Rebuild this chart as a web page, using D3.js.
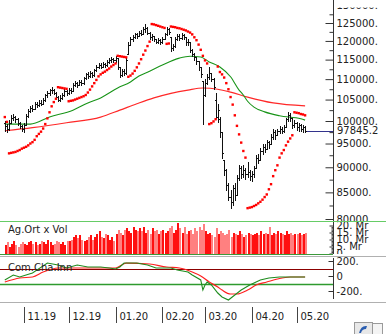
<!DOCTYPE html>
<html><head><meta charset="utf-8">
<script src="https://cdnjs.cloudflare.com/ajax/libs/d3/7.8.5/d3.min.js"></script>
<style>body{margin:0;background:#fff;} svg{display:block;font-family:"DejaVu Sans",Verdana,sans-serif;}</style>
</head><body><svg id="c" width="386" height="334"></svg>
<script>
// ---------- DATA ----------
const startDate = "2019-10-18", endDate = "2020-05-08";
const holidays = ["2019-10-29","2020-01-01","2020-04-23","2020-05-01"];
const monthLabels = ["11.19","12.19","01.20","02.20","03.20","04.20","05.20"];
const priceTicks = [80,85,90,95,100,105,110,115,120,125,130];
const priceTickLabels = ["80000.","85000.","90000.","95000.","100000.","105000.","110000.","115000.","120000.","125000.","130000."];
const priceMinor = [82.5,87.5,92.5,97.5,102.5,107.5,112.5,117.5,122.5,127.5];
const lastPriceLabel = "97845.2";
const volTicks = [0,5,10,15,20];
const volTickLabels = ["0.","5. Mr","10. Mr","15. Mr","20. Mr"];
const cciTicks = [-200,0,200];
const cciTickLabels = ["-200.","0","200."];
const cciLevels = [100,-100];

// prices in thousands
const opens = [99.5,98.8,98.3,99.6,100.8,101.0,100.4,99.6,98.8,
 98.2,99.2,101.2,102.3,103.0,102.8,104.0,103.6,104.3,104.0,104.8,106.0,106.5,107.2,107.4,106.7,105.5,105.0,105.4,106.2,107.0,
 106.6,107.3,107.0,108.5,109.0,108.6,109.4,109.0,110.2,111.2,110.8,111.5,111.0,112.2,113.0,113.6,113.2,113.9,113.5,114.4,114.9,115.1,
 114.8,115.5,113.0,111.0,112.0,111.6,116.6,119.0,120.5,121.0,121.8,121.4,122.3,122.0,123.3,123.6,122.2,121.0,121.3,120.4,119.8,120.3,
 119.6,120.5,121.8,123.2,121.0,118.0,118.6,120.5,121.4,120.8,121.6,121.0,119.6,119.8,117.6,116.5,115.6,114.6,113.0,109.5,
 106.0,109.0,110.5,111.5,110.0,105.0,101.0,100.5,97.5,91.5,89.5,86.5,84.2,83.2,85.8,84.5,87.8,89.8,88.6,89.5,88.6,89.0,
 88.2,88.6,89.8,92.0,91.5,93.5,94.3,93.8,95.3,94.8,96.5,97.6,96.8,97.7,98.3,97.8,98.6,100.4,101.3,100.6,99.0,
 99.6,98.6,99.0,98.2,98.6];
const highs = [100.0,99.3,100.2,101.3,101.6,101.2,100.6,99.8,99.0,
 99.5,101.6,102.8,103.5,103.6,104.4,104.5,104.8,104.9,105.3,106.4,107.0,107.6,108.0,107.6,106.8,105.9,106.0,106.6,107.5,107.4,
 107.7,107.8,109.0,109.5,109.4,109.9,109.8,110.6,111.6,111.7,112.0,111.9,112.6,113.5,114.0,114.0,114.3,114.2,114.8,115.3,115.6,115.5,
 116.0,115.2,113.2,112.6,112.5,115.3,119.6,121.0,121.6,122.3,122.2,122.8,122.9,123.8,124.7,123.8,122.4,121.8,121.4,120.6,120.8,120.5,
 121.0,122.2,124.0,123.6,121.0,119.2,121.0,122.0,121.8,122.1,121.8,121.0,120.4,119.5,117.8,116.8,115.6,114.4,113.0,109.6,
 110.0,111.2,113.2,111.6,110.2,106.5,104.0,101.0,97.5,91.5,89.6,86.8,85.5,86.5,86.8,88.5,90.5,90.3,90.4,89.8,91.0,89.4,
 89.3,90.3,92.5,92.8,94.0,94.8,95.0,95.8,95.6,97.0,98.2,98.0,98.3,98.8,98.6,99.0,100.8,102.0,101.8,100.8,100.2,
 99.8,99.5,99.3,99.2,98.9];
const lows = [97.8,97.5,98.0,99.5,100.2,99.8,99.2,98.4,97.7,
 97.6,99.0,101.0,102.0,102.2,102.9,103.2,103.4,103.6,103.9,104.7,105.6,106.1,106.6,106.3,105.1,104.6,104.7,105.2,105.9,106.0,
 106.4,106.6,107.0,108.2,108.1,108.5,108.6,108.9,110.0,110.3,110.6,110.5,110.9,112.0,112.7,112.8,113.0,113.0,113.3,114.0,114.5,114.3,
 114.5,112.5,110.6,110.8,111.0,111.4,116.5,118.8,120.0,120.8,120.9,121.4,121.5,122.0,122.6,121.8,120.5,120.3,119.9,119.3,119.4,119.2,
 119.3,120.4,121.6,121.8,117.4,117.5,118.4,120.3,120.3,120.6,120.4,119.0,119.0,117.0,115.9,115.0,113.8,112.4,110.6,99.3,
 105.8,108.8,110.0,109.5,107.5,100.6,99.8,96.5,92.0,88.5,85.5,83.5,82.0,82.5,83.6,84.5,87.5,87.8,88.0,87.6,88.0,87.5,
 87.3,88.0,89.8,90.8,91.5,92.8,93.2,93.8,94.0,94.8,96.0,96.0,96.8,97.2,97.4,97.6,98.6,100.0,100.0,98.5,98.6,
 98.0,97.8,97.7,97.6,97.5];
const closes = [98.8,98.3,99.5,100.8,101.0,100.4,99.6,98.8,98.2,
 99.2,101.2,102.3,103.0,102.8,104.0,103.6,104.3,104.0,104.8,106.0,106.5,107.2,107.4,106.7,105.5,105.0,105.4,106.2,107.0,106.6,
 107.3,107.0,108.5,109.0,108.6,109.4,109.0,110.2,111.2,110.8,111.5,111.0,112.2,113.0,113.6,113.2,113.9,113.5,114.4,114.9,115.1,114.8,
 115.5,113.0,111.0,112.0,111.6,114.8,119.0,120.5,121.0,121.8,121.4,122.3,122.0,123.3,123.6,122.2,121.0,121.3,120.4,119.8,120.3,119.6,
 120.5,121.8,123.2,122.4,118.0,118.6,120.5,121.4,120.8,121.6,121.0,119.6,119.8,117.6,116.5,115.6,114.6,113.0,111.2,106.0,
 109.0,110.5,111.5,110.0,108.0,101.0,102.5,97.5,93.0,89.5,86.5,84.2,83.2,85.8,84.5,87.8,89.8,88.6,89.5,88.6,89.0,88.2,
 88.6,89.8,92.0,91.5,93.5,94.3,93.8,95.3,94.8,96.5,97.6,96.8,97.7,98.3,97.8,98.6,100.4,101.3,100.6,99.0,99.6,
 98.6,99.0,98.2,98.6,97.8452];
// parabolic SAR (thousands)
const sar = [100.9,99.8,92.9,93.0,93.1,93.2,93.4,93.6,93.9,
 94.1,94.3,94.6,95.0,95.3,95.8,96.6,97.1,97.6,98.3,99.3,100.6,102.0,103.4,104.4,105.2,108.0,107.9,107.8,107.7,107.6,
 104.6,104.7,104.8,105.0,105.2,105.4,105.6,105.8,106.1,106.7,107.4,108.2,109.0,109.8,110.7,111.2,111.6,111.9,112.3,112.7,113.2,113.6,
 114.0,116.0,115.9,115.8,115.7,115.6,110.6,110.9,111.4,112.1,113.0,114.0,115.1,116.3,117.4,118.6,119.8,124.7,124.6,124.4,124.2,124.0,
 123.8,123.6,119.2,119.3,124.0,123.9,123.8,123.6,123.5,123.3,123.1,122.9,122.6,122.3,121.8,121.0,120.2,119.0,117.6,116.0,
 114.8,114.0,99.3,99.5,99.9,100.4,113.2,111.8,111.2,110.4,109.0,107.5,105.6,103.8,101.3,98.9,97.0,95.2,93.4,92.0,82.0,82.1,
 82.2,82.4,82.6,82.9,83.2,83.6,84.1,84.6,85.6,86.6,88.2,89.4,90.4,92.0,92.9,93.6,94.6,95.4,96.1,96.8,102.0,
 101.9,101.8,101.6,101.5,101.3];
// moving averages (sampled: trading-day index, value in thousands)
const maShortIdx = [0,12,21,32,39,45,53,59,63,68,74,82,87,92,96,101,106,110,112,114,117,122,129,139,141];
const maShortVal = [99.3,99.3,100.9,102.5,104.2,105.4,107.8,109.3,110.8,112.0,113.6,115.4,115.9,115.7,114.4,113.1,110.6,107.3,106.1,104.6,103.2,102.1,101.2,100.5,100.2];
const maLongIdx = [0,13,29,45,54,62,70,78,86,93,100,106,114,126,141];
const maLongVal = [97.8,98.5,99.6,100.9,102.5,104.0,105.4,106.5,107.3,107.8,107.5,106.8,105.6,104.2,103.5];
// volume (Mr)
const volumes = [6,8,5,7,9,6,5,7,8,
 7,6,8,9,7,8,6,7,9,8,7,10,8,6,7,9,8,7,8,6,9,
 9,10,12,13,11,13,10,9,10,12,13,10,12,14,16,12,11,14,13,10,12,9,
 14,17,15,13,17,18,16,15,19,17,16,18,16,19,15,17,14,18,16,17,14,16,
 17,15,16,18,20,15,17,22,18,15,19,14,16,17,14,18,16,19,17,21,
 16,14,15,13,12,18,14,16,15,13,14,17,12,15,14,13,16,14,12,13,15,14,
 13,14,15,13,16,14,15,14,19,13,15,14,16,15,14,13,16,14,15,13,14,
 14,15,13,14,15];
// commodity channel index (sampled)
const cciIdx = [0,4,7,13,20,25,29,34,39,45,49,52,54,56,62,67,71,78,81,86,88,92,93,94,95,97,100,102,105,108,111,115,120,124,129,134,141];
const cciVal = [-53,13,-13,40,173,147,107,147,120,120,107,93,120,173,173,147,107,107,80,53,13,-53,-187,-120,-80,-120,-227,-280,-320,-253,-187,-120,-53,-27,-13,-13,-13];
const cciSigIdx = [0,7,13,18,25,35,45,52,57,68,76,82,88,92,96,100,102,106,109,114,118,123,128,134,141];
const cciSigVal = [-80,-27,-13,53,107,107,107,107,173,160,120,107,53,0,-80,-147,-187,-240,-240,-187,-120,-80,-40,-13,-13];

// ---------- HELPERS ----------
function tradingDays(s, e, hol) {
  const out = []; const hs = new Set(hol);
  const d = new Date(s + "T12:00:00Z"), end = new Date(e + "T12:00:00Z");
  while (d <= end) {
    const wd = d.getUTCDay(); const iso = d.toISOString().slice(0,10);
    if (wd !== 0 && wd !== 6 && !hs.has(iso)) out.push(new Date(d));
    d.setUTCDate(d.getUTCDate() + 1);
  }
  return out;
}
const dates = tradingDays(startDate, endDate, holidays);
const N = closes.length;

const svg = d3.select("#c");
const plotR = 333;
const x = d3.scaleLinear().domain([0, N - 1]).range([4.8, 305.1]);
const y = d3.scaleLog().domain([80, 125]).range([219, 23]);
const yv = d3.scaleLinear().domain([0, 20]).range([253.5, 225.5]);
const yc = d3.scaleLinear().domain([-200, 200]).range([291, 261]);
const px = v => Math.round(v) + 0.5;
const FONT = "DejaVu Sans, Verdana, sans-serif";

const defs = svg.append("defs");
function clip(id, x0, y0, w, h) { defs.append("clipPath").attr("id", id).append("rect").attr("x", x0).attr("y", y0).attr("width", w).attr("height", h); }
clip("cMain", 0, 0, plotR, 221);
clip("cVol", 0, 221, plotR, 33);
clip("cCci", 0, 257, plotR, 46);
clip("cMainAx", plotR - 10, 7.5, 70, 213.5);
clip("cVolAx", plotR - 10, 222, 70, 32);
clip("cCciAx", plotR - 10, 257, 70, 45);

function styleAxis(g) {
  g.selectAll(".domain").remove();
  g.selectAll("text").attr("font-family", FONT).attr("font-size", 10).attr("fill", "#222");
  g.selectAll("line").attr("stroke", "#333");
}

// ---------- MAIN PANEL ----------
const gMain = svg.append("g").attr("clip-path", "url(#cMain)");
const lineIdx = (ix, vals, sc) => d3.line().x((d, k) => x(ix[k])).y(d => sc(d)).curve(d3.curveMonotoneX)(vals);
gMain.append("path").attr("d", lineIdx(maLongIdx, maLongVal, y)).attr("fill", "none").attr("stroke", "#ff2828").attr("stroke-width", 1.2);
gMain.append("path").attr("d", lineIdx(maShortIdx, maShortVal, y)).attr("fill", "none").attr("stroke", "#189418").attr("stroke-width", 1.1);

// last price line
gMain.append("line").attr("x1", x(N - 1)).attr("x2", plotR).attr("y1", px(y(closes[N - 1]))).attr("y2", px(y(closes[N - 1])))
  .attr("stroke", "#33338c").attr("stroke-width", 1);

// OHLC bars
const bars = gMain.append("g").attr("stroke", "#111").attr("stroke-width", 1).attr("shape-rendering", "crispEdges");
for (let i = 0; i < N; i++) {
  const xi = px(x(i));
  bars.append("line").attr("x1", xi).attr("x2", xi).attr("y1", Math.round(y(highs[i]))).attr("y2", Math.round(y(lows[i])) + 1);
  bars.append("line").attr("x1", xi - 1.5).attr("x2", xi).attr("y1", px(y(opens[i]))).attr("y2", px(y(opens[i])));
  bars.append("line").attr("x1", xi).attr("x2", xi + 1.5).attr("y1", px(y(closes[i]))).attr("y2", px(y(closes[i])));
}
// SAR dots
gMain.append("g").selectAll("rect").data(sar).join("rect")
  .attr("x", (d, i) => x(i) - 1.2).attr("y", d => y(d) - 1.2).attr("width", 2.4).attr("height", 2.4).attr("fill", "#ff0000");

// main axis
svg.append("line").attr("x1", plotR + 0.5).attr("x2", plotR + 0.5).attr("y1", 0).attr("y2", 221).attr("stroke", "#333");
const axMainWrap = svg.append("g").attr("clip-path", "url(#cMainAx)");
const axMain = axMainWrap.append("g").attr("transform", `translate(${plotR + 0.5},0)`);
axMain.call(d3.axisRight(y).tickValues(priceTicks).tickSizeInner(-8).tickSizeOuter(0).tickPadding(3)
  .tickFormat((d, k) => priceTickLabels[k]));
axMain.append("g").call(d3.axisRight(y).tickValues(priceMinor).tickSizeInner(-4).tickSizeOuter(0).tickFormat(""));
styleAxis(axMain);
svg.append("text").attr("x", plotR + 4).attr("y", y(closes[N - 1])).attr("dy", "0.32em")
  .attr("font-size", 10).attr("fill", "#222").text(lastPriceLabel);

// ---------- SEPARATORS ----------
svg.append("line").attr("x1", 0).attr("x2", 386).attr("y1", 221.5).attr("y2", 221.5).attr("stroke", "#66cc66");
svg.append("line").attr("x1", 0).attr("x2", plotR).attr("y1", 254.5).attr("y2", 254.5).attr("stroke", "#3c9a3c");
svg.append("line").attr("x1", 0).attr("x2", 386).attr("y1", 256.5).attr("y2", 256.5).attr("stroke", "#b0b0b0");
svg.append("line").attr("x1", 0).attr("x2", 386).attr("y1", 302.5).attr("y2", 302.5).attr("stroke", "#b0b0b0");

// ---------- VOLUME PANEL ----------
const gVol = svg.append("g").attr("clip-path", "url(#cVol)").attr("shape-rendering", "crispEdges");
gVol.selectAll("rect").data(volumes).join("rect")
  .attr("x", (d, i) => Math.round(x(i))).attr("width", 1.5)
  .attr("y", d => yv(d)).attr("height", d => yv(0) - yv(d))
  .attr("fill", (d, i) => (i > 0 && closes[i] < closes[i - 1]) ? "#ff8080" : "#ff1010");
svg.append("text").attr("x", 8).attr("y", 233).attr("font-size", 10).attr("fill", "#222").text("Ag.Ort x Vol");
svg.append("line").attr("x1", plotR + 0.5).attr("x2", plotR + 0.5).attr("y1", 222).attr("y2", 254).attr("stroke", "#333");
const axVolWrap = svg.append("g").attr("clip-path", "url(#cVolAx)");
const axVol = axVolWrap.append("g").attr("transform", `translate(${plotR + 0.5},0)`);
axVol.call(d3.axisRight(yv).tickValues(volTicks).tickSizeInner(-4).tickSizeOuter(0).tickPadding(3).tickFormat((d, k) => volTickLabels[k]));
axVol.append("g").call(d3.axisRight(yv).tickValues(d3.range(1, 21).filter(v => v % 5)).tickSizeInner(-2).tickSizeOuter(0).tickFormat(""));
styleAxis(axVol);

// ---------- CCI PANEL ----------
const gC = svg.append("g").attr("clip-path", "url(#cCci)");
gC.append("line").attr("x1", 0).attr("x2", plotR).attr("y1", px(yc(cciLevels[0]))).attr("y2", px(yc(cciLevels[0]))).attr("stroke", "#8b0000");
gC.append("line").attr("x1", 0).attr("x2", plotR).attr("y1", px(yc(cciLevels[1]))).attr("y2", px(yc(cciLevels[1]))).attr("stroke", "#2e9a2e").attr("stroke-width", 1.3);
svg.append("text").attr("x", 8).attr("y", 271).attr("font-size", 10).attr("fill", "#222").text("Com.Cha.Inn");
gC.append("path").attr("d", lineIdx(cciSigIdx, cciSigVal, yc)).attr("fill", "none").attr("stroke", "#ff2020").attr("stroke-width", 1.2);
gC.append("path").attr("d", d3.line().x((d, k) => x(cciIdx[k])).y(d => yc(d))(cciVal)).attr("fill", "none").attr("stroke", "#1e8c1e").attr("stroke-width", 1.1);
svg.append("line").attr("x1", plotR + 0.5).attr("x2", plotR + 0.5).attr("y1", 258).attr("y2", 299).attr("stroke", "#333");
const axCWrap = svg.append("g").attr("clip-path", "url(#cCciAx)");
const axC = axCWrap.append("g").attr("transform", `translate(${plotR + 0.5},0)`);
axC.call(d3.axisRight(yc).tickValues(cciTicks).tickSizeInner(-5).tickSizeOuter(0).tickPadding(3).tickFormat((d, k) => cciTickLabels[k]));
styleAxis(axC);

// ---------- DATE AXIS ----------
const monthIdx = [];
for (let i = 1; i < N; i++) if (dates[i].getUTCMonth() !== dates[i - 1].getUTCMonth()) monthIdx.push(i);
const gX = svg.append("g");
monthIdx.forEach((mi, k) => {
  const xx = px(x(mi));
  gX.append("line").attr("x1", xx).attr("x2", xx).attr("y1", 307).attr("y2", 323).attr("stroke", "#444");
  gX.append("text").attr("x", xx + 3).attr("y", 320).attr("font-size", 10).attr("fill", "#222").text(monthLabels[k]);
});

// ---------- ICON ----------
svg.append("rect").attr("x", 354.5).attr("y", 322.5).attr("width", 18).attr("height", 14).attr("fill", "#e8e8e8").attr("stroke", "#9a9a9a");
svg.append("path").attr("d", "M359,333 Q361,325 367,326 L366,329 Q362,329 361,333 Z").attr("fill", "#2a5db0");
svg.append("rect").attr("x", 372.5).attr("y", 323.5).attr("width", 10).attr("height", 12).attr("fill", "#f4f4f4").attr("stroke", "#9a9a9a");
</script></body></html>
